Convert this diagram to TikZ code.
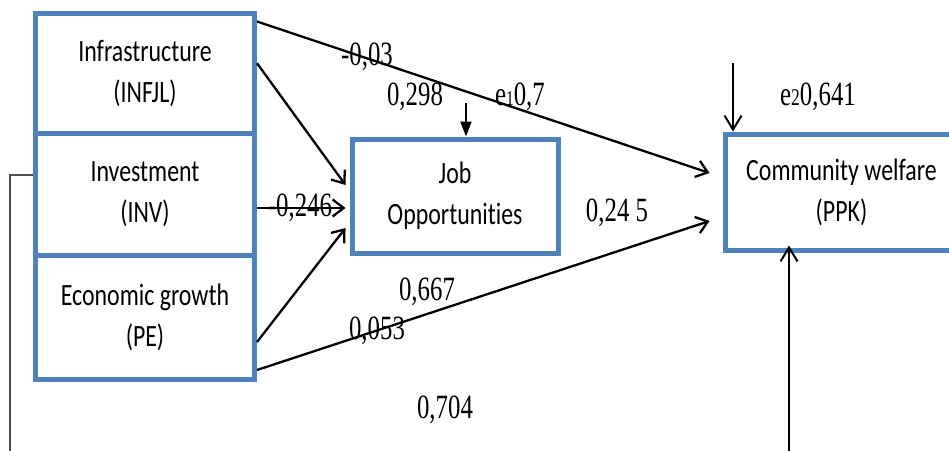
\documentclass[tikz,border=0pt]{standalone}
\usepackage{fontspec}
\usepackage{graphicx}
\setmainfont{Liberation Serif}
\newfontfamily\boxfont[Ligatures=NoCommon]{Carlito}
\usetikzlibrary{arrows.meta,calc}
\definecolor{boxblue}{RGB}{79,129,189}
\definecolor{bracketgray}{RGB}{80,80,80}
\newcommand\sqz[1]{\scalebox{0.77}[1]{#1}}
\newcommand\nsq[1]{\scalebox{0.73}[1]{#1}}
\begin{document}
\begin{tikzpicture}[x=1pt,y=-1pt,
  box/.style={draw=boxblue,line width=5pt,rectangle,inner sep=0pt,align=center,
    font=\boxfont\fontsize{31}{41}\selectfont},
  num/.style={inner sep=0pt,font=\fontsize{34}{34}\selectfont},
  arr/.style={line width=2.3pt,-{Straight Barb[length=11pt,width=17pt,line width=2.3pt]}},
  varr/.style={line width=2pt,-{Straight Barb[length=14pt,width=17pt,line width=2pt]}},
  farr/.style={line width=2pt,-{Triangle[length=15pt,width=11pt]}}]
\useasboundingbox (0,0) rectangle (949,450);
\clip (0,0) rectangle (949,450);
\fill[white] (0,0) rectangle (949,450);
% boxes
\node[box,minimum width=219pt,minimum height=119.5pt] (infra) at (145,73.25) {\sqz{Infrastructure}\\\sqz{(INFJL)}};
\node[box,minimum width=219pt,minimum height=122pt] (inv) at (145,194) {\sqz{Investment}\\\sqz{(INV)}};
\node[box,minimum width=219pt,minimum height=124pt] (pe) at (145,317) {\sqz{Economic growth}\\\sqz{(PE)}};
\node[box,minimum width=206pt,minimum height=114pt] (job) at (455,196) {\sqz{Job}\\\sqz{Opportunities}};
\node[box,minimum width=233pt,minimum height=116pt] (cw) at (841.5,192) {\sqz{Community welfare}\\\sqz{(PPK)}};
% free ends
\coordinate (jtop) at (466,103);
\coordinate (ctop) at (733,63);
\coordinate (cbot) at (789,452);
\coordinate (lb1) at (10,175);
\coordinate (lb2) at (10,452);
% connectors
\draw[arr] ($(infra.north east)+(0,10.5)$) -- ($(cw.west)+(-13,-19)$);
\draw[arr] ($(infra.east)+(0,-10)$) -- ($(job.west)+(-4,-11)$);
\draw[arr] ($(inv.east)+(0,14)$) -- ($(job.west)+(-4,12)$);
\draw[arr] ($(pe.east)+(0,25)$) -- ($(job.west)+(-4,32)$);
\draw[arr] ($(pe.east)+(0,53)$) -- ($(cw.west)+(-13,29)$);
\draw[farr] (jtop) -- (jtop |- job.north);
\draw[varr] (ctop) -- (ctop |- cw.north);
\draw[varr] (cbot) -- ($(cbot |- cw.south)+(0,-7)$);
\draw[bracketgray,line width=1.5pt] (inv.west |- lb1) -- (lb1) -- (lb2);
% labels
\node[num] (l1) at (367,57) {\nsq{-0,03}};
\node[num] (l2) at (415,97) {\nsq{0,298}};
\node[num] (l3) at (520,97) {\nsq{e{\fontsize{21}{21}\selectfont 1}0,7}};
\node[num] (l4) at (818,97) {\nsq{e{\fontsize{24}{24}\selectfont 2}0,641}};
\node[num] (l5) at (300,208) {\nsq{-0,246}};
\node[num] (l6) at (617,213) {\nsq{0,24 5}};
\node[num] (l7) at (427,292) {\nsq{0,667}};
\node[num] (l8) at (377,331) {\nsq{0,053}};
\node[num] (l9) at (445,410) {\nsq{0,704}};
\end{tikzpicture}
\end{document}
